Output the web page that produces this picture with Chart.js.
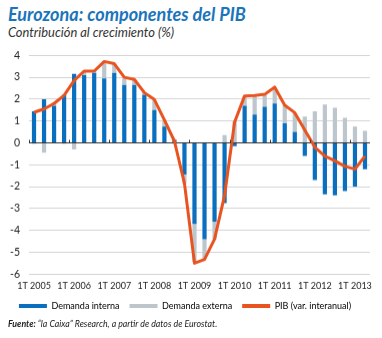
<!DOCTYPE html>
<html lang="es">
<head>
  <meta charset="UTF-8" />
  <title>Eurozona: componentes del PIB</title>
  <style>
    body, html {
      margin: 0;
      padding: 0;
      background: #fff;
      font-family: 'Lato', sans-serif;
    }
    .wrap {
      position: relative;
      width: 382px;
      height: 338px;
    }
    .title {
      position: absolute;
      left: 8px;
      top: 3px;
      font-size: 18px;
      font-weight: bold;
      font-style: italic;
      color: #1a75bb;
      white-space: nowrap;
    }
    .subtitle {
      position: absolute;
      left: 8px;
      top: 24px;
      font-size: 12.9px;
      font-style: italic;
      color: #333;
      white-space: nowrap;
    }
    .source {
      position: absolute;
      left: 8px;
      top: 318px;
      font-size: 8.8px;
      font-style: italic;
      color: #222;
      white-space: nowrap;
    }
    #chart-box {
      position: absolute;
      left: 0;
      top: 40px;
      width: 382px;
      height: 279.5px;
    }
  </style>
</head>
<body>
<div class="wrap">
  <div class="title">Eurozona: componentes del PIB</div>
  <div class="subtitle">Contribución al crecimiento (%)</div>
  <div id="chart-box"><canvas id="pibChart"></canvas></div>
  <div class="source"><b>Fuente:</b> “la Caixa” Research, a partir de datos de Eurostat.</div>
</div>

<script src="https://cdn.jsdelivr.net/npm/chart.js"></script>
<script>
  // trimestres 1T 2005 .. 2T 2013
  const years = [2005, 2006, 2007, 2008, 2009, 2010, 2011, 2012, 2013];
  const quarters = ['1T', '2T', '3T', '4T'];
  const labels = [];
  years.forEach(y => quarters.forEach(q => labels.push(q + ' ' + y)));
  labels.length = 34;

  const demandaInterna = [1.45, 2.0, 1.7, 2.2, 3.15, 3.1, 3.2, 2.95, 3.2, 2.65, 2.65, 2.2, 1.5, 0.75, 0.15, -1.45, -3.7, -4.4, -3.6, -2.75, -0.15, 1.7, 1.3, 1.65, 1.8, 0.9, 0.5, -0.6, -1.7, -2.35, -2.4, -2.2, -2.0, -1.2];
  const demandaExterna = [-0.05, -0.45, 0.15, -0.05, -0.3, 0.2, 0.08, 0.75, 0.4, 0.3, 0.25, 0.12, 0.45, 0.3, -0.05, -0.4, -1.75, -0.9, -0.8, 0.35, 1.0, 0.45, 0.85, 0.55, 0.7, 0.85, 0.85, 1.2, 1.45, 1.75, 1.6, 1.15, 0.75, 0.55];
  const pib = [1.4, 1.55, 1.8, 2.17, 2.85, 3.28, 3.28, 3.72, 3.62, 3.0, 2.9, 2.3, 1.98, 1.05, 0.08, -1.85, -5.5, -5.33, -4.4, -2.4, 0.95, 2.15, 2.17, 2.22, 2.55, 1.72, 1.38, 0.58, -0.2, -0.6, -0.82, -1.07, -1.2, -0.6];

  const BLUE = '#0a6fbf';
  const GREY = '#bcc6cc';
  const ORANGE = '#e8531f';

  // little marks on the zero line between years
  const yearTicks = {
    id: 'yearTicks',
    afterDatasetsDraw(chart) {
      const x = chart.scales.x, y = chart.scales.y;
      const ctx = chart.ctx;
      const y0 = y.getPixelForValue(0);
      const half = (x.getPixelForTick(1) - x.getPixelForTick(0)) / 2;
      ctx.save();
      ctx.strokeStyle = '#333';
      ctx.lineWidth = 1;
      labels.forEach((l, i) => {
        if (!l.startsWith('1T')) return;
        const px = Math.round(x.getPixelForTick(i) - half) + 0.5;
        ctx.beginPath();
        ctx.moveTo(px, y0 - 3);
        ctx.lineTo(px, y0);
        ctx.stroke();
      });
      ctx.restore();
    }
  };

  new Chart(document.getElementById('pibChart'), {
    data: {
      labels: labels,
      datasets: [
        {
          type: 'bar',
          label: 'Demanda interna',
          data: demandaInterna,
          backgroundColor: BLUE,
          stack: 'comp',
          order: 1
        },
        {
          type: 'bar',
          label: 'Demanda externa',
          data: demandaExterna,
          backgroundColor: GREY,
          stack: 'comp',
          order: 2
        },
        {
          type: 'line',
          label: 'PIB (var. interanual)',
          data: pib,
          borderColor: ORANGE,
          backgroundColor: ORANGE,
          borderWidth: 3,
          pointRadius: 0,
          tension: 0,
          borderJoinStyle: 'round',
          stack: 'pib',
          order: 0
        }
      ]
    },
    options: {
      responsive: true,
      maintainAspectRatio: false,
      animation: false,
      datasets: {
        bar: { categoryPercentage: 1, barPercentage: 0.42 }
      },
      layout: { padding: { top: 15, right: 12, left: 0, bottom: 0 } },
      plugins: {
        tooltip: { enabled: false },
        legend: {
          position: 'bottom',
          labels: {
            boxWidth: 28,
            boxHeight: 4,
            padding: 10,
            color: '#222',
            font: { family: 'Lato', size: 9 },
            generateLabels(chart) {
              return chart.data.datasets.map((d, i) => ({
                text: d.label,
                fillStyle: d.type === 'line' ? d.borderColor : d.backgroundColor,
                strokeStyle: d.backgroundColor,
                lineWidth: 0,
                datasetIndex: i
              }));
            }
          }
        }
      },
      scales: {
        x: {
          stacked: true,
          afterFit(scale) { scale.height = 17.2; },
          grid: { display: false, drawTicks: false },
          border: { display: false },
          ticks: {
            autoSkip: false,
            maxRotation: 0,
            padding: 6.3,
            color: '#222',
            font: { family: 'Lato', size: 9 },
            callback(v, i) { return labels[i].startsWith('1T') ? labels[i] : ''; }
          }
        },
        y: {
          stacked: true,
          min: -6,
          max: 4,
          afterFit(scale) { scale.width = 29; },
          grid: {
            drawTicks: false,
            color: ctx => ctx.tick.value === 0 ? '#333' : '#d4d4d4',
            lineWidth: 1
          },
          border: { display: false },
          ticks: {
            stepSize: 1,
            padding: 9,
            color: '#222',
            font: { family: 'Lato', size: 10.5 }
          }
        }
      }
    },
    plugins: [yearTicks]
  });
</script>
</body>
</html>
